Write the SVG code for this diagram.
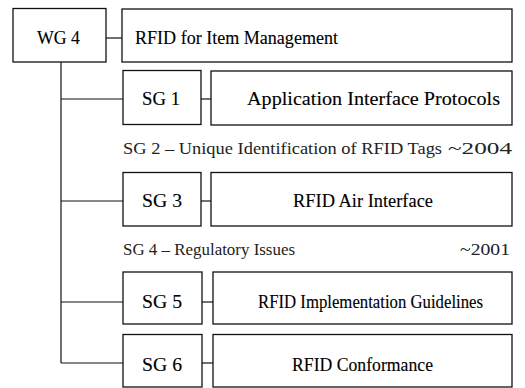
<svg xmlns="http://www.w3.org/2000/svg" width="525" height="388" viewBox="0 0 525 388">
<style>
.b{fill:#fff;stroke:#111;stroke-width:1.3}
line{stroke:#111;stroke-width:1.2}
text{font-family:'Liberation Serif','DejaVu Serif','Times New Roman',serif;font-size:18px;fill:#000;stroke:#000;stroke-width:0.12}
.m{text-anchor:middle}
.s{font-size:17px;fill:#222;stroke:none}
</style>
<g id="connectors">
<line x1="106" y1="38" x2="122" y2="38"/>
<line x1="61" y1="62" x2="61" y2="363"/>
<line x1="61" y1="99" x2="123" y2="99"/>
<line x1="201" y1="99" x2="211" y2="99"/>
<line x1="61" y1="201" x2="123" y2="201"/>
<line x1="201" y1="201" x2="211" y2="201"/>
<line x1="61" y1="302" x2="123" y2="302"/>
<line x1="202" y1="302" x2="213" y2="302"/>
<line x1="61" y1="363" x2="123" y2="363"/>
<line x1="202" y1="363" x2="213" y2="363"/>
</g>
<g id="wg4"><rect class="b" x="13" y="8.5" width="93" height="53.5"/><text class="m" x="58.5" y="44" textLength="43" lengthAdjust="spacingAndGlyphs">WG 4</text></g>
<g id="item-mgmt"><rect class="b" x="122" y="9" width="390" height="53"/><text x="135" y="44" textLength="203" lengthAdjust="spacingAndGlyphs">RFID for Item Management</text></g>
<g id="sg1"><rect class="b" x="123" y="70.5" width="78" height="54"/><text class="m" x="161" y="105" textLength="38" lengthAdjust="spacingAndGlyphs">SG 1</text></g>
<g id="app"><rect class="b" x="211" y="71" width="301" height="54"/><text class="m" x="373.5" y="105" textLength="253" lengthAdjust="spacingAndGlyphs">Application Interface Protocols</text></g>
<g id="sg2"><text class="s" x="123" y="154" textLength="319" lengthAdjust="spacingAndGlyphs">SG 2 – Unique Identification of RFID Tags</text><text class="s" x="448" y="154" textLength="64" lengthAdjust="spacingAndGlyphs">~2004</text></g>
<g id="sg3"><rect class="b" x="123" y="172.5" width="78" height="53.5"/><text class="m" x="162" y="207" textLength="40" lengthAdjust="spacingAndGlyphs">SG 3</text></g>
<g id="air"><rect class="b" x="211" y="172.5" width="301" height="53.5"/><text class="m" x="363" y="207" textLength="140" lengthAdjust="spacingAndGlyphs">RFID Air Interface</text></g>
<g id="sg4"><text class="s" x="123" y="255" textLength="172" lengthAdjust="spacingAndGlyphs">SG 4 – Regulatory Issues</text><text class="s" x="460" y="255" textLength="50" lengthAdjust="spacingAndGlyphs">~2001</text></g>
<g id="sg5"><rect class="b" x="123" y="272" width="79" height="52"/><text class="m" x="162" y="307.5" textLength="40" lengthAdjust="spacingAndGlyphs">SG 5</text></g>
<g id="impl"><rect class="b" x="213" y="272" width="299" height="52"/><text class="m" x="370.5" y="307.5" textLength="225" lengthAdjust="spacingAndGlyphs">RFID Implementation Guidelines</text></g>
<g id="sg6"><rect class="b" x="123" y="334.5" width="79" height="52.5"/><text class="m" x="162" y="370.5" textLength="40" lengthAdjust="spacingAndGlyphs">SG 6</text></g>
<g id="conf"><rect class="b" x="213" y="334.5" width="299" height="52.5"/><text class="m" x="362.5" y="370.5" textLength="141" lengthAdjust="spacingAndGlyphs">RFID Conformance</text></g>
</svg>
